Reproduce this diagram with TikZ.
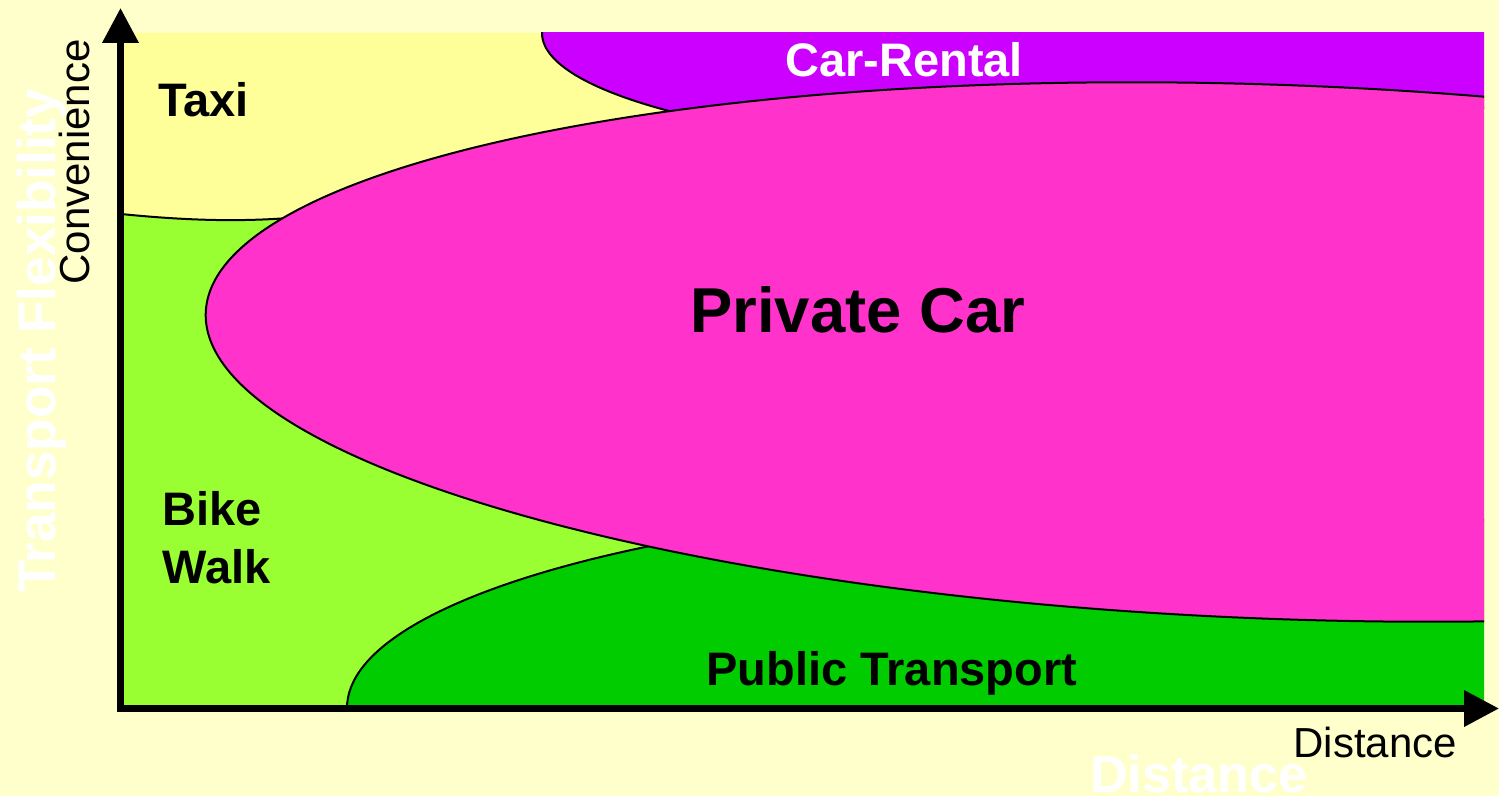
\documentclass[tikz,border=0pt]{standalone}
\usepackage{fontspec}
\setmainfont{Liberation Sans}
\usetikzlibrary{arrows.meta}
\definecolor{fond}{HTML}{FFFFCC}
\definecolor{jaune}{HTML}{FFFF99}
\definecolor{vertclair}{HTML}{99FF33}
\definecolor{vertfonce}{HTML}{00CC00}
\definecolor{violet}{HTML}{CC00FF}
\definecolor{rose}{HTML}{FF33CC}
\begin{document}
\begin{tikzpicture}[x=0.5pt,y=-0.5pt]
\tikzstyle{axe}=[line width=3.5pt,line cap=rect,-{Triangle[length=17.5pt,width=17.5pt]}]
\tikzset{zone/.style={fill=#1,draw=black,line width=1pt},
zone/.default={white}}
\tikzset{etiquette/.style={inner sep=0pt,anchor=base west,font=\bfseries\fontsize{23.5}{28}\selectfont},
legende/.style={inner sep=0pt,anchor=base west,font=\fontsize{21}{25}\selectfont}}
\fill[fond] (0,0) rectangle (1499,796);
\useasboundingbox (0,0) rectangle (1499,796);

% titres en blanc
\node[etiquette,rotate=90,text=white,font=\bfseries\fontsize{26.5}{30}\selectfont] (F) at (55,593) {Transport Flexibility};
\node[etiquette,text=white,font=\bfseries\fontsize{26}{30}\selectfont] (D) at (1090,792) {Distance};

% zones
\begin{scope}
\clip (121,33) rectangle (1484,708);
\fill[vertclair] (121,33) rectangle (1484,708);
\fill[jaune] (121,33) -- (700,33) -- (700,150) -- (320,215) .. controls (260,222) and (200,222) .. (121,214) -- cycle;
\draw[line width=1pt] (121,214) .. controls (200,222) and (260,222) .. (320,215);
\draw[zone=violet] (1071,33) ellipse [x radius=529, y radius=120];
\draw[zone=vertfonce] (1150,708) ellipse [x radius=803, y radius=207];
\draw[zone=rose] (1280,352) ellipse [x radius=1075, y radius=267, rotate=-2.1];
\end{scope}

% axes
\coordinate (O) at (120.5,708.5);
\coordinate (Y) at (120.5,8);
\coordinate (X) at (1499,708.5);
\draw[axe] (O) -- (Y);
\draw[axe] (O) -- (X);

\node[legende,rotate=90] (C) at (89,285) {Convenience};
\node[legende] (C1) at (1293,757) {Distance};

\node[etiquette] (A) at (158,117) {Taxi};
\node[etiquette] (B) at (162,525) {Bike};
\node[etiquette] (B1) at (162,583) {Walk};
\node[etiquette,text=white] (R) at (785,77) {Car-Rental};
\node[etiquette,font=\bfseries\fontsize{31.7}{38}\selectfont] (P) at (690,333) {Private Car};
\node[etiquette] (T) at (706,685) {Public Transport};
\end{tikzpicture}
\end{document}
